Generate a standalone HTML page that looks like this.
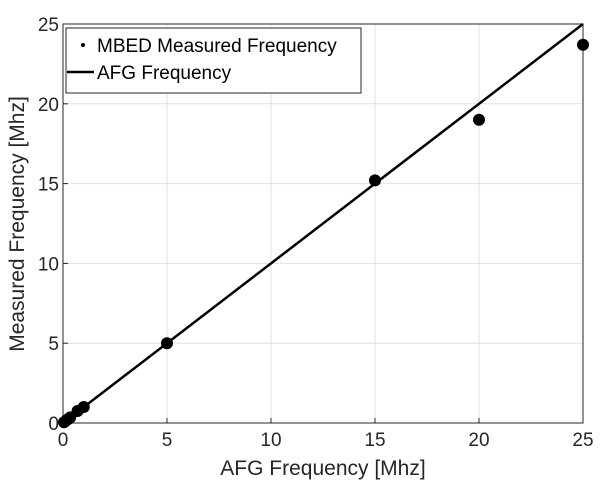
<!DOCTYPE html>
<html><head><meta charset="utf-8"><style>
html,body{margin:0;padding:0;background:#fff;}
svg{display:block;font-family:"Liberation Sans",sans-serif;}
</style></head><body>
<svg id="chart" width="601" height="488">
<rect width="601" height="488" fill="#fff"/>
<g id="grid"></g>
<g id="axes"></g>
<g id="series"></g>
<text x="323" y="475" font-size="21" text-anchor="middle" fill="#262626">AFG Frequency [Mhz]</text>
<text transform="translate(24,224) rotate(-90)" font-size="21" text-anchor="middle" fill="#262626">Measured Frequency [Mhz]</text>
<g>
<rect x="66" y="28" width="295" height="65" fill="#fff" stroke="#262626" stroke-width="1"/>
<circle cx="83" cy="45" r="2" fill="#000"/>
<text x="97" y="52" font-size="19" fill="#000">MBED Measured Frequency</text>
<line x1="67" y1="72" x2="94" y2="72" stroke="#000" stroke-width="2.5"/>
<text x="97" y="79" font-size="19" fill="#000">AFG Frequency</text>
</g>
</svg>
<script>
const xTicks=[0,5,10,15,20,25];
const yTicks=[0,5,10,15,20,25];
const afgX=[0,25];
const afgY=[0,25];
const mbedX=[0.05,0.15,0.25,0.35,0.7,1,5,15,20,25];
const mbedY=[0.05,0.15,0.25,0.35,0.75,1,5,15.2,19,23.7];
const L=63,R=583,T=24,B=423;
const sx=v=>L+(v-0)/25*(R-L);
const sy=v=>B-(v-0)/25*(B-T);
const NS="http://www.w3.org/2000/svg";
function mk(p,t,a){const e=document.createElementNS(NS,t);for(const k in a)e.setAttribute(k,a[k]);p.appendChild(e);return e;}
const grid=document.getElementById('grid'),axes=document.getElementById('axes'),ser=document.getElementById('series');
xTicks.forEach(v=>{
 const g=mk(grid,'line',{x1:sx(v),x2:sx(v),y1:T,y2:B,stroke:'#e0e0e0','stroke-width':1});
 
 
 const t=mk(axes,'line',{x1:sx(v),x2:sx(v),y1:B,y2:B-5,stroke:'#262626','stroke-width':1});
 
 
 const l=mk(axes,'text',{x:sx(v),y:B+23,'font-size':19,'text-anchor':'middle',fill:'#262626'});
 l.textContent=v;
 
 
});
yTicks.forEach(v=>{
 const g=mk(grid,'line',{x1:L,x2:R,y1:sy(v),y2:sy(v),stroke:'#e0e0e0','stroke-width':1});
 
 
 const t=mk(axes,'line',{x1:L,x2:L+5,y1:sy(v),y2:sy(v),stroke:'#262626','stroke-width':1});
 
 
 const l=mk(axes,'text',{x:L-4,y:sy(v)+7,'font-size':19,'text-anchor':'end',fill:'#262626'});
 l.textContent=v;
 
 
});
const box=mk(axes,'rect',{x:L,y:T,width:R-L,height:B-T,fill:'none',stroke:'#262626','stroke-width':1});


const ln=mk(ser,'polyline',{points:afgX.map((x,i)=>sx(x)+','+sy(afgY[i])).join(' '),fill:'none',stroke:'#000','stroke-width':2.5});


mbedX.forEach((x,i)=>{
 const c=mk(ser,'circle',{cx:sx(x),cy:sy(mbedY[i]),r:6,fill:'#000'});
 
 
});
</script>
</body></html>
